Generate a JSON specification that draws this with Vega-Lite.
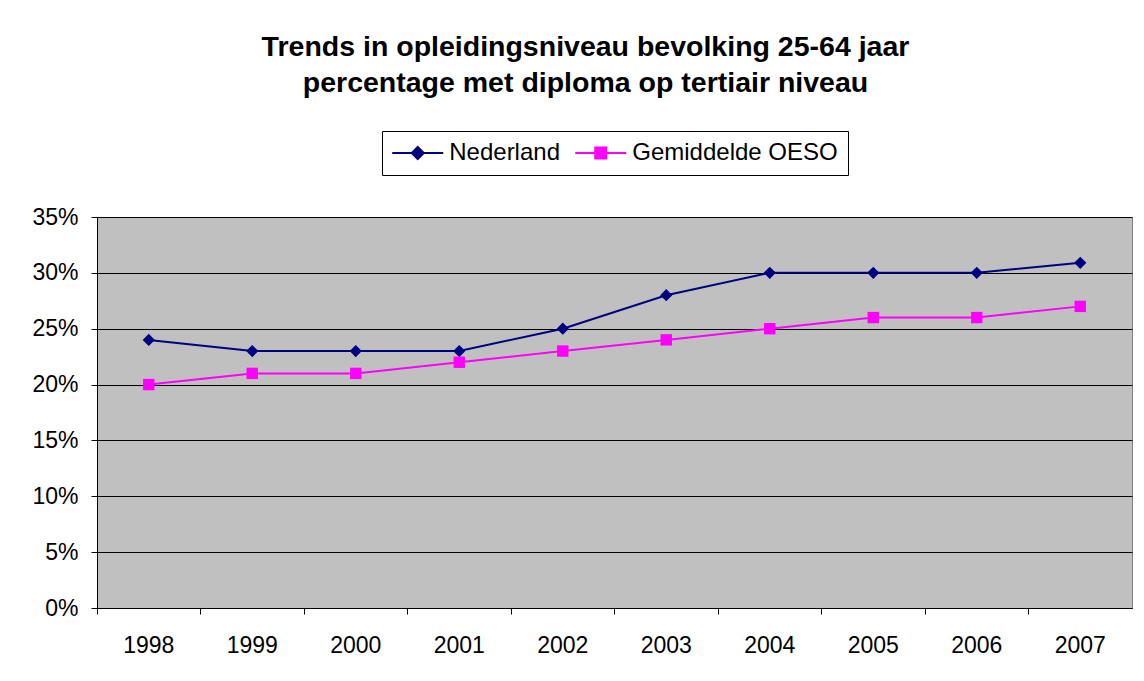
{
  "$schema": "https://vega.github.io/schema/vega-lite/v6.json",
  "width": 1035,
  "height": 391,
  "autosize": {"type": "none"},
  "padding": {"left": 97, "top": 217, "right": 12, "bottom": 73},
  "background": "white",
  "title": {
    "text": ["Trends in opleidingsniveau bevolking 25-64 jaar", "percentage met diploma op tertiair niveau"],
    "font": "Liberation Sans",
    "fontSize": 28.5,
    "fontWeight": "bold",
    "color": "black",
    "lineHeight": 36,
    "anchor": "middle",
    "frame": "group",
    "dx": -29,
    "offset": 33
  },
  "data": {
    "values": [
      {"year": "1998", "series": "Nederland", "value": 0.24},
      {"year": "1999", "series": "Nederland", "value": 0.23},
      {"year": "2000", "series": "Nederland", "value": 0.23},
      {"year": "2001", "series": "Nederland", "value": 0.23},
      {"year": "2002", "series": "Nederland", "value": 0.25},
      {"year": "2003", "series": "Nederland", "value": 0.28},
      {"year": "2004", "series": "Nederland", "value": 0.30},
      {"year": "2005", "series": "Nederland", "value": 0.30},
      {"year": "2006", "series": "Nederland", "value": 0.30},
      {"year": "2007", "series": "Nederland", "value": 0.309},
      {"year": "1998", "series": "Gemiddelde OESO", "value": 0.20},
      {"year": "1999", "series": "Gemiddelde OESO", "value": 0.21},
      {"year": "2000", "series": "Gemiddelde OESO", "value": 0.21},
      {"year": "2001", "series": "Gemiddelde OESO", "value": 0.22},
      {"year": "2002", "series": "Gemiddelde OESO", "value": 0.23},
      {"year": "2003", "series": "Gemiddelde OESO", "value": 0.24},
      {"year": "2004", "series": "Gemiddelde OESO", "value": 0.25},
      {"year": "2005", "series": "Gemiddelde OESO", "value": 0.26},
      {"year": "2006", "series": "Gemiddelde OESO", "value": 0.26},
      {"year": "2007", "series": "Gemiddelde OESO", "value": 0.27}
    ]
  },
  "encoding": {
    "x": {
      "field": "year",
      "type": "ordinal",
      "scale": {"type": "band", "paddingInner": 0, "paddingOuter": 0},
      "axis": {
        "title": null,
        "labelAngle": 0,
        "bandPosition": 0,
        "labelFont": "Liberation Sans",
        "labelFontSize": 23,
        "labelColor": "black",
        "labelPadding": 20,
        "tickSize": 6,
        "tickColor": "black",
        "domainColor": "black",
        "grid": false
      }
    },
    "y": {
      "field": "value",
      "type": "quantitative",
      "scale": {"domain": [0, 0.35], "nice": false, "zero": true},
      "axis": {
        "title": null,
        "values": [0, 0.05, 0.1, 0.15, 0.2, 0.25, 0.3, 0.35],
        "format": ".0%",
        "labelFont": "Liberation Sans",
        "labelFontSize": 23,
        "labelColor": "black",
        "labelPadding": 13,
        "tickSize": 6,
        "tickColor": "black",
        "domainColor": "black",
        "grid": true,
        "gridColor": "black",
        "gridOpacity": 1,
        "gridWidth": 1
      }
    },
    "color": {
      "field": "series",
      "type": "nominal",
      "sort": ["Nederland", "Gemiddelde OESO"],
      "scale": {"domain": ["Nederland", "Gemiddelde OESO"], "range": ["#000080", "#FF00FF"]},
      "legend": {
        "title": null,
        "orient": "none",
        "legendX": 285,
        "legendY": -86,
        "direction": "horizontal",
        "strokeColor": "black",
        "fillColor": "white",
        "padding": 10,
        "cornerRadius": 0,
        "labelFont": "Liberation Sans",
        "labelFontSize": 24,
        "labelColor": "black",
        "labelLimit": 400,
        "symbolSize": 400,
        "symbolOffset": 13.75,
        "labelOffset": 19.5,
        "columnPadding": 11,
        "symbolStrokeWidth": 2,
        "encode": {
          "symbols": {
            "update": {
              "shape": {"signal": "datum.value === 'Nederland' ? 'M-2.55,0L2.55,0M0,-0.6L0.6,0L0,0.6L-0.6,0Z' : 'M-2.55,0L2.55,0M-0.55,-0.55L0.55,-0.55L0.55,0.55L-0.55,0.55Z'"},
              "size": {"value": 400},
              "fill": {"scale": "color", "field": "value"},
              "stroke": {"scale": "color", "field": "value"},
              "strokeWidth": {"value": 2},
              "strokeOpacity": {"value": 1},
              "opacity": {"value": 1},
              "fillOpacity": {"value": 1}
            }
          }
        }
      }
    }
  },
  "layer": [
    {"mark": {"type": "line", "strokeWidth": 2}},
    {
      "transform": [{"filter": "datum.series === 'Nederland'"}],
      "mark": {"type": "point", "filled": true, "opacity": 1, "shape": "diamond", "size": 150}
    },
    {
      "transform": [{"filter": "datum.series === 'Gemiddelde OESO'"}],
      "mark": {"type": "point", "filled": true, "opacity": 1, "shape": "square", "size": 130}
    }
  ],
  "config": {
    "view": {"fill": "#C0C0C0", "stroke": "#808080", "strokeWidth": 1}
  }
}
